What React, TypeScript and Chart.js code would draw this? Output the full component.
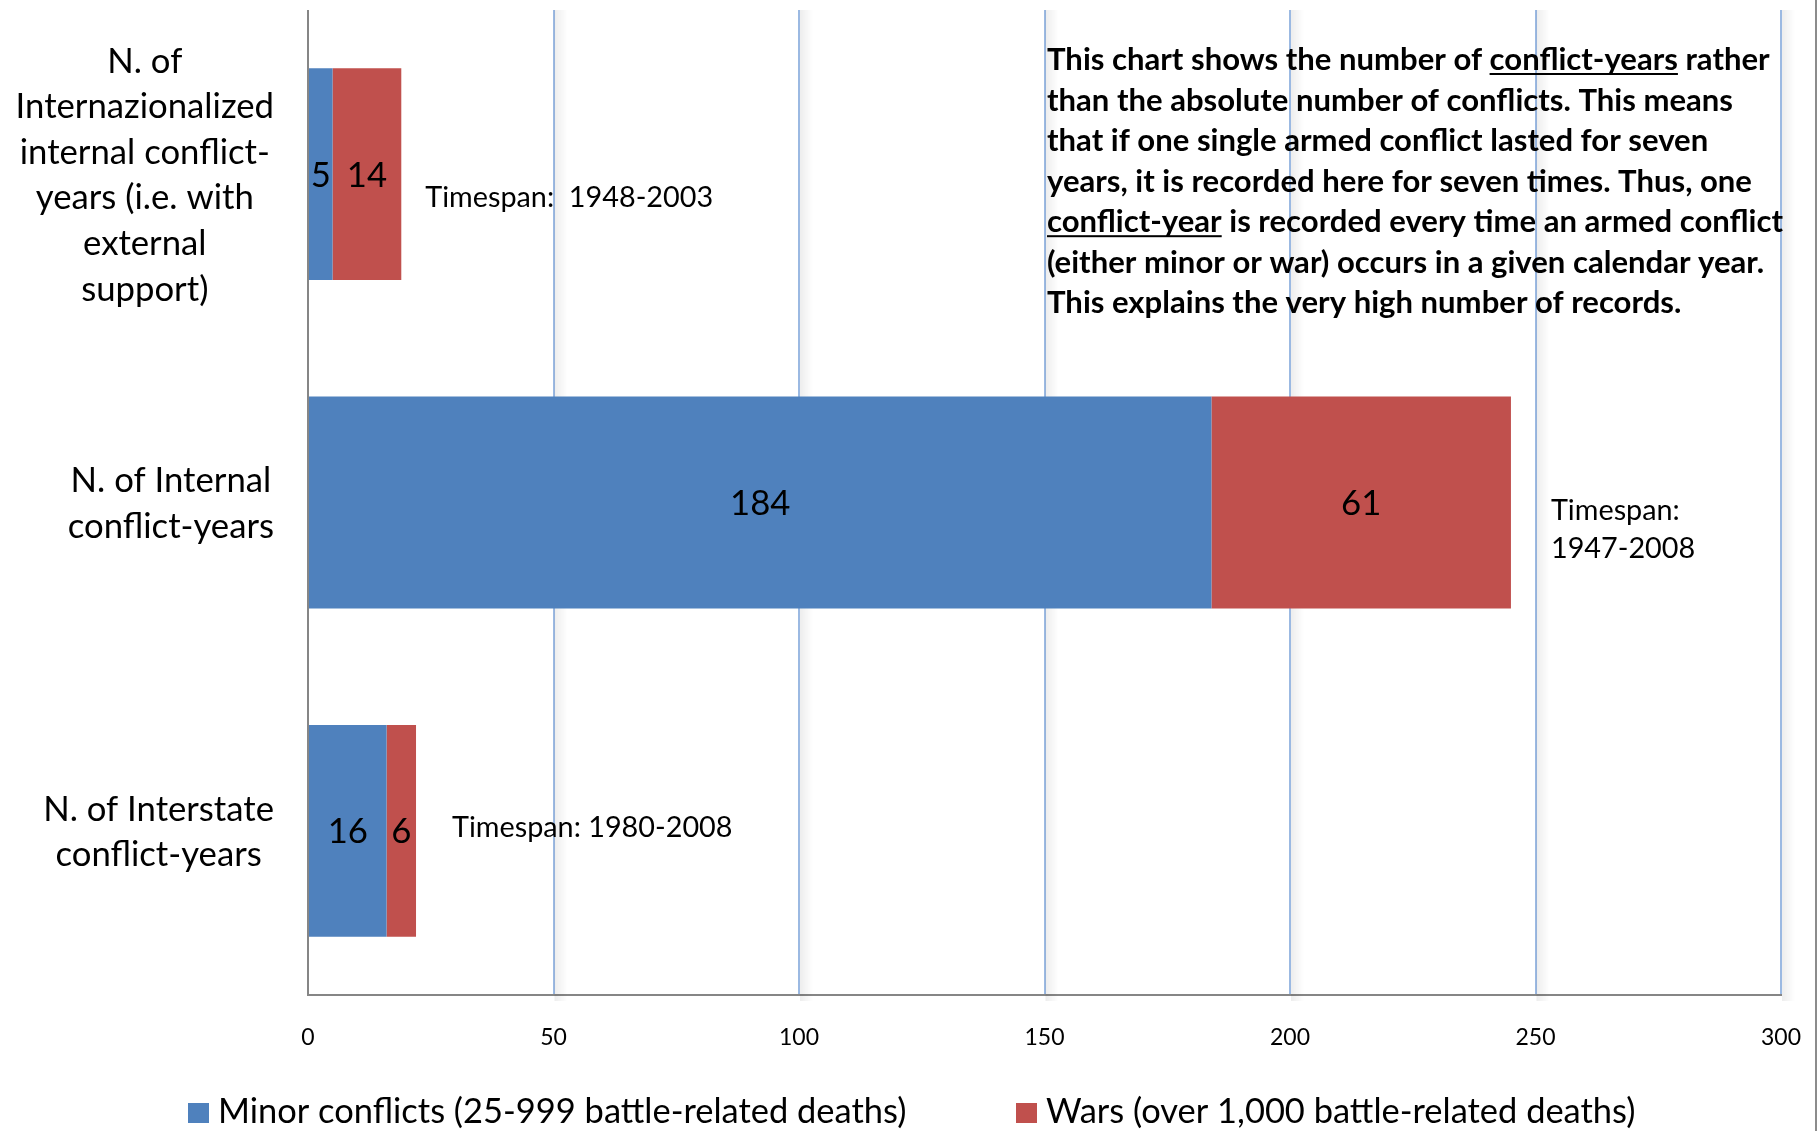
import React, { useEffect, useRef } from "react";
import { Chart, registerables } from "chart.js";

Chart.register(...registerables);

// ---------- DATA ----------
const categoryLabels: string[][] = [
  ["N. of", "Internazionalized", "internal conflict-", "years (i.e. with", "external", "support)"],
  ["N. of Internal", "conflict-years"],
  ["N. of Interstate", "conflict-years"],
];
const seriesNames = [
  "Minor conflicts (25-999 battle-related deaths)",
  "Wars (over 1,000 battle-related deaths)",
];
const minorConflicts = [5, 184, 16];
const wars = [14, 61, 6];
const xTickValues = [0, 50, 100, 150, 200, 250, 300];
const timespanLabels: string[][] = [
  ["Timespan:  1948-2003"],
  ["Timespan:", "1947-2008"],
  ["Timespan: 1980-2008"],
];
// note text, segments: [text, underlined]
const noteLines: [string, boolean][][] = [
  [["This chart shows the number of ", false], ["conflict-years", true], [" rather", false]],
  [["than the absolute number of conflicts. This means", false]],
  [["that if one single armed conflict lasted for seven", false]],
  [["years, it is recorded here for seven times. Thus, one", false]],
  [["conflict-year", true], [" is recorded every time an armed conflict", false]],
  [["(either minor or war) occurs in a given calendar year.", false]],
  [["This explains the very high number of records.", false]],
];

// ---------- STYLE ----------
const BLUE = "#4F81BD";
const RED = "#C0504D";
const GRID = "#9BB9E2";
const AXIS = "#868686";
const FAMILY = 'Lato, "Open Sans", sans-serif';
const timespanStyle = [
  { dx: 24, baselines: [32.8] },
  { dx: 40, baselines: [17.4, 55.7] },
  { dx: 36, baselines: [5.7] },
];

function fitSize(ctx: CanvasRenderingContext2D, text: string, weight: string, target: number) {
  ctx.font = `${weight} 100px ${FAMILY}`;
  return (100 * target) / ctx.measureText(text).width;
}
function capHeight(ctx: CanvasRenderingContext2D) {
  return ctx.measureText("H").actualBoundingBoxAscent;
}

const decor = {
  id: "decor",
  beforeDatasetsDraw(chart: any) {
    const { ctx, chartArea } = chart;
    const xs = chart.scales.x;
    ctx.save();
    xs.ticks.forEach((t: any, i: number) => {
      if (i === 0) return;
      const px = xs.getPixelForValue(t.value);
      const g = ctx.createLinearGradient(px + 1, 0, px + 14, 0);
      g.addColorStop(0, "rgba(0,0,0,0.07)");
      g.addColorStop(1, "rgba(0,0,0,0)");
      ctx.fillStyle = g;
      ctx.fillRect(px + 1, chartArea.top, 13, chartArea.bottom - chartArea.top + 6);
    });
    ctx.restore();
  },
  afterDraw(chart: any) {
    const { ctx } = chart;
    const ys = chart.scales.y;
    ctx.save();
    ctx.fillStyle = "#000";
    ctx.textBaseline = "alphabetic";

    // category labels (right-aligned block, centered lines)
    const ySize = fitSize(ctx, "Internazionalized", "normal", 258.5);
    ctx.font = `normal ${ySize}px ${FAMILY}`;
    const ch = capHeight(ctx);
    const lh = 45.6;
    categoryLabels.forEach((lines, i) => {
      const cy = ys.getPixelForValue(i);
      const bw = Math.max(...lines.map((l) => ctx.measureText(l).width));
      const cx = 274 - bw / 2;
      ctx.textAlign = "center";
      lines.forEach((l, k) => {
        const y = cy + (k - (lines.length - 1) / 2) * lh + ch / 2;
        ctx.fillText(l, cx, y);
      });
    });

    // value labels
    ctx.font = `normal ${ySize}px ${FAMILY}`;
    ctx.textAlign = "center";
    chart.data.datasets.forEach((ds: any, d: number) => {
      const meta = chart.getDatasetMeta(d);
      meta.data.forEach((el: any, i: number) => {
        const p = el.getProps(["x", "base", "y"], true);
        ctx.fillText(String(ds.data[i]), (p.x + p.base) / 2, p.y + ch / 2);
      });
    });

    // timespans
    const tSize = fitSize(ctx, "Timespan: 1980-2008", "normal", 280.6);
    ctx.font = `normal ${tSize}px ${FAMILY}`;
    ctx.textAlign = "left";
    const lastMeta = chart.getDatasetMeta(chart.data.datasets.length - 1);
    timespanLabels.forEach((lines, i) => {
      const el = lastMeta.data[i].getProps(["x", "y"], true);
      const st = timespanStyle[i];
      lines.forEach((l, k) => ctx.fillText(l, el.x + st.dx, el.y + st.baselines[k]));
    });

    // note
    const nSize = fitSize(ctx, "This chart shows the number of conflict-years rather", "bold", 723);
    ctx.font = `bold ${nSize}px ${FAMILY}`;
    ctx.textAlign = "left";
    noteLines.forEach((segs, k) => {
      let x = 1047;
      const y = 70 + k * 40.55;
      segs.forEach(([txt, u]) => {
        const w = ctx.measureText(txt).width;
        ctx.fillText(txt, x, y);
        if (u) ctx.fillRect(x, y + 3, w, 2);
        x += w;
      });
    });

    // legend
    const lSize = fitSize(ctx, seriesNames[0], "normal", 688.7);
    ctx.font = `normal ${lSize}px ${FAMILY}`;
    const legendX = [188, 1016];
    chart.data.datasets.forEach((ds: any, d: number) => {
      const bx = legendX[d];
      ctx.fillStyle = ds.backgroundColor;
      ctx.fillRect(bx, 1103, 21, 20);
      ctx.fillStyle = "#000";
      ctx.fillText(ds.label, bx + 30, 1123);
    });

    // outer frame line on the right
    ctx.fillStyle = "#8C8C8C";
    ctx.fillRect(1815, 0, 2, 1131);
    ctx.restore();
  },
};

export default function App() {
  const ref = useRef<HTMLCanvasElement>(null);
  useEffect(() => {
    const canvas = ref.current!;
    const chart = new Chart(canvas, {
      type: "bar",
      data: {
        labels: categoryLabels as any,
        datasets: [
          { label: seriesNames[0], data: minorConflicts, backgroundColor: BLUE },
          { label: seriesNames[1], data: wars, backgroundColor: RED },
        ],
      },
      options: {
        indexAxis: "y",
        responsive: false,
        animation: false,
        devicePixelRatio: 1,
        layout: { padding: { left: 308, right: 37, top: 10, bottom: 0 } },
        plugins: { legend: { display: false }, tooltip: { enabled: false } },
        datasets: { bar: { categoryPercentage: 1, barPercentage: 0.645 } },
        scales: {
          x: {
            stacked: true,
            min: xTickValues[0],
            max: xTickValues[xTickValues.length - 1],
            afterBuildTicks: (scale: any) => {
              scale.ticks = xTickValues.map((v) => ({ value: v }));
            },
            afterFit: (scale: any) => {
              scale.height = 136;
              scale.paddingLeft = 0;
              scale.paddingRight = 0;
            },
            grid: {
              color: (c: any) => (c.index === 0 ? AXIS : GRID),
              lineWidth: 2,
              drawTicks: false,
            },
            border: { display: true, color: AXIS, width: 2 },
            ticks: {
              color: "#000",
              padding: 29,
              font: { family: FAMILY, size: 23 },
              maxRotation: 0,
            },
          },
          y: { stacked: true, display: false },
        },
      } as any,
      plugins: [decor],
    });
    return () => chart.destroy();
  }, []);
  return (
    <div style={{ position: "absolute", left: 0, top: 0, width: 1818, height: 1131, background: "#fff" }}>
      <canvas ref={ref} width={1818} height={1131} style={{ display: "block" }} />
    </div>
  );
}
